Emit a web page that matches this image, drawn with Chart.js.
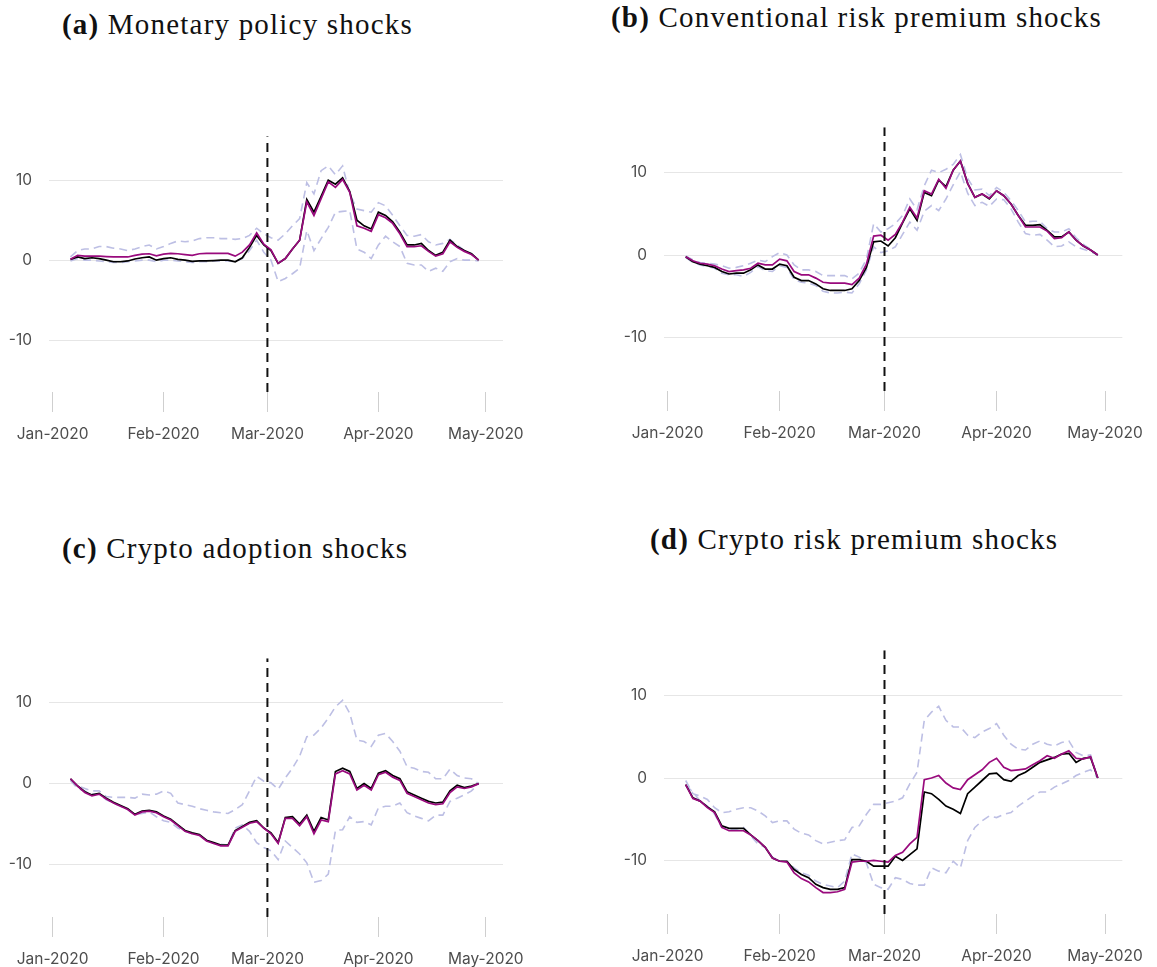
<!DOCTYPE html>
<html>
<head>
<meta charset="utf-8">
<script src="https://cdn.jsdelivr.net/npm/chart.js@4.4.1/dist/chart.umd.min.js"></script>
<style>
  html, body { margin: 0; padding: 0; background: #fff; overflow: hidden; }
  body { width: 1157px; height: 967px; position: relative; }
  .ttl { position: absolute; font-family: "Liberation Serif", serif; font-size: 29px; line-height: 29px; letter-spacing: 1.2px; color: #111; white-space: nowrap; }
  .box { position: absolute; }
</style>
</head>
<body>
<div class="ttl" style="left:62px;top:10px"><b>(a)</b> Monetary policy shocks</div>
<div class="ttl" style="left:611px;top:3px"><b>(b)</b> Conventional risk premium shocks</div>
<div class="ttl" style="left:62px;top:534px"><b>(c)</b> Crypto adoption shocks</div>
<div class="ttl" style="left:650px;top:525px"><b>(d)</b> Crypto risk premium shocks</div>

<div class="box" style="left:0px;top:110px;width:543px;height:332px"><canvas id="panelA"></canvas></div>
<div class="box" style="left:604px;top:101px;width:553px;height:340px"><canvas id="panelB"></canvas></div>
<div class="box" style="left:0px;top:632px;width:543px;height:335px"><canvas id="panelC"></canvas></div>
<div class="box" style="left:604px;top:624px;width:553px;height:340px"><canvas id="panelD"></canvas></div>

<script>
// days counted from 1 Jan 2020
const days = [5,7,9,11,13,15,17,19,21,23,25,27,29,31,33,35,37,39,41,43,45,47,49,51,53,55,57,59,61,63,65,67,69,71,73,75,77,79,81,83,85,87,89,91,93,95,97,99,101,103,105,107,109,111,113,115,117,119];
const monthStarts = [0, 31, 60, 91, 121];
const monthLabels = ["Jan-2020", "Feb-2020", "Mar-2020", "Apr-2020", "May-2020"];
const yTicks = [-10, 0, 10];
const eventDay = 60;   // 1 Mar 2020
const yMin = -16.5, yMax = 15.5;
const xMin = -1, xMax = 125.8;

// (a) monetary policy
const monBase = [0.1,0.4,0.2,0.3,0.2,0,-0.2,-0.2,-0.1,0.15, 0.3,0.4,0,0.2,0.3,0.1,0,-0.15,-0.1,-0.1, -0.05,0,0,-0.2,0.3,1.6,3.1,1.9,1.2,-0.4, 0.2,1.4,2.5,7.6,6.0,8.0,10.0,9.5,10.3,8.6, 5.0,4.3,3.9,6.0,5.6,4.8,3.5,1.9,1.9,2.1, 1.2,0.6,1.0,2.5,1.7,1.2,0.8,0];
const monAlt = [0.1,0.6,0.5,0.5,0.5,0.45,0.4,0.4,0.4,0.6, 0.75,0.8,0.55,0.75,0.85,0.8,0.7,0.6,0.8,0.85, 0.85,0.85,0.85,0.5,1.0,1.9,3.4,2.0,1.3,-0.4, 0.2,1.4,2.5,7.3,5.6,7.7,9.8,9.1,10.1,8.5, 4.3,4.0,3.6,5.7,5.3,4.6,3.3,1.7,1.7,1.8, 1.1,0.5,0.8,2.3,1.6,1.1,0.7,0];
const monHi = [0.4,1.2,1.4,1.4,1.7,1.7,1.5,1.4,1.2,1.4, 1.7,1.9,1.4,1.7,2.1,2.4,2.3,2.4,2.7,2.8, 2.8,2.7,2.7,2.6,2.7,3.1,4.0,3.3,2.8,2.5, 3.3,4.3,5.2,9.7,8.3,11.2,11.8,10.7,11.8,8.3, 6.4,6.2,6.0,7.2,6.8,5.6,4.3,3.1,3.0,3.2, 2.3,1.9,2.1,2.6,1.9,1.2,0.8,0];
const monLo = [-0.1,0.2,0,0,-0.1,-0.2,-0.3,-0.3,-0.2,-0.1, 0,0,-0.2,0,0,-0.1,-0.2,-0.3,-0.2,-0.2, -0.1,-0.1,-0.1,-0.2,0.2,1.2,2.5,1.0,0,-2.7, -2.3,-1.7,-1.0,3.7,1.2,2.7,4.1,6.0,6.1,6.2, 1.4,1.0,0.2,1.9,3.0,2.3,1.7,-0.4,-0.6,-0.6, -1.4,-1.0,-1.4,-0.2,0.2,0,0,-0.1];

// (b) conventional risk premium
const convBase = [-0.2,-0.8,-1.1,-1.3,-1.5,-2.0,-2.3,-2.2,-2.2,-1.8, -1.2,-1.7,-1.7,-1.1,-1.3,-2.7,-3.1,-3.1,-3.5,-4.1, -4.3,-4.3,-4.3,-4.1,-3.1,-1.5,1.6,1.7,1.1,2.1, 3.9,5.6,4.2,7.6,7.2,9.1,8.3,10.3,11.4,8.7, 7.0,7.4,6.8,7.8,7.2,6.2,4.8,3.6,3.6,3.7, 3.0,2.2,2.2,2.8,1.8,1.1,0.6,0];
const convAlt = [-0.2,-0.7,-1.0,-1.1,-1.3,-1.7,-2.0,-1.9,-1.8,-1.6, -1.0,-1.2,-1.2,-0.5,-0.7,-2.0,-2.4,-2.4,-2.8,-3.3, -3.4,-3.4,-3.4,-3.6,-2.8,-1.1,2.3,2.4,1.8,2.5, 4.0,5.8,4.5,7.8,7.4,9.2,8.1,10.3,11.4,8.7, 7.0,7.4,6.9,7.8,7.2,6.2,4.8,3.4,3.4,3.4, 2.9,2.0,2.1,2.8,1.8,1.1,0.6,0];
const convHi = [-0.1,-0.6,-0.9,-1.0,-1.1,-1.3,-1.6,-1.5,-1.3,-1.0, -0.6,-0.8,-0.2,0.3,0.0,-1.2,-1.8,-1.8,-2.0,-2.5, -2.5,-2.5,-2.5,-2.9,-2.2,-0.5,3.8,2.8,3.2,3.8, 4.8,6.8,5.5,8.4,10.3,10.0,10.4,11.0,12.2,9.3, 7.9,8.0,7.2,8.2,7.6,6.6,5.4,4.0,4.1,4.1, 3.2,2.8,2.8,3.2,2.1,1.3,0.7,0];
const convLo = [-0.3,-0.9,-1.2,-1.4,-1.6,-2.2,-2.4,-2.4,-2.6,-2.1, -1.4,-1.9,-2.0,-1.3,-1.5,-3.0,-3.3,-3.4,-3.7,-4.4, -4.6,-4.6,-4.5,-4.6,-3.5,-1.8,1.0,0.3,0.5,1.0, 2.5,4.0,3.0,5.3,6.0,5.4,6.8,8.5,10.1,7.5, 6.0,6.4,5.9,6.8,6.7,5.6,4.0,2.6,2.4,2.5, 1.8,1.0,1.1,1.6,1.0,0.7,0.4,0];

// (c) crypto adoption
const adoptBase = [0.6,-0.3,-1.0,-1.4,-1.2,-1.8,-2.3,-2.7,-3.1,-3.8, -3.4,-3.3,-3.5,-4.0,-4.4,-5.1,-5.8,-6.1,-6.3,-7.0, -7.3,-7.6,-7.6,-5.8,-5.3,-4.8,-4.6,-5.5,-6.1,-7.3, -4.2,-4.1,-5.0,-3.9,-5.9,-4.2,-4.5,1.5,1.9,1.5, -0.6,0.0,-0.6,1.3,1.6,1.0,0.6,-1.0,-1.4,-1.8, -2.2,-2.4,-2.3,-0.9,-0.2,-0.5,-0.3,0];
const adoptAlt = [0.6,-0.3,-1.1,-1.5,-1.3,-1.9,-2.4,-2.8,-3.2,-3.9, -3.5,-3.4,-3.6,-4.1,-4.5,-5.2,-5.9,-6.2,-6.4,-7.1, -7.4,-7.7,-7.7,-5.9,-5.4,-4.9,-4.7,-5.5,-6.2,-7.4, -4.3,-4.3,-5.2,-4.1,-6.2,-4.5,-4.7,1.2,1.6,1.2, -0.8,-0.2,-0.8,1.1,1.4,0.8,0.4,-1.2,-1.6,-2.0, -2.4,-2.6,-2.5,-1.1,-0.4,-0.6,-0.4,0];
const adoptHi = [0.5,-0.3,-0.6,-0.9,-0.9,-1.6,-1.7,-1.7,-1.7,-1.8, -1.3,-1.4,-1.3,-0.9,-1.2,-2.4,-2.6,-2.8,-3.1,-3.3, -3.5,-3.6,-3.7,-3.2,-2.6,-0.9,0.9,0.3,0.1,-0.7, 0.7,1.9,3.4,5.8,6.0,6.9,8.1,9.5,10.3,8.7, 5.4,5.2,4.6,6.0,6.2,5.2,4.0,2.1,1.9,1.5, 1.4,0.6,0.6,1.8,1.0,0.7,0.6,0];
const adoptLo = [0.4,-0.6,-0.9,-1.3,-1.3,-2.0,-2.4,-2.8,-3.2,-3.8, -3.7,-3.5,-4.1,-4.6,-4.8,-5.5,-5.9,-6.2,-6.4,-7.0, -7.4,-7.5,-7.6,-5.5,-5.1,-5.9,-7.3,-7.9,-8.3,-9.4, -7.1,-7.9,-8.7,-9.8,-12.2,-12.0,-11.2,-5.8,-5.7,-4.1, -4.8,-4.7,-5.1,-3.0,-2.8,-2.8,-2.4,-3.6,-4.0,-4.3, -4.6,-3.9,-3.9,-2.2,-1.8,-1.4,-0.9,0];

// (d) crypto risk premium
const cryptoBase = [-0.8,-2.4,-2.8,-3.5,-4.1,-5.8,-6.1,-6.1,-6.1,-6.9, -7.6,-8.4,-9.7,-10.1,-10.1,-11.1,-11.7,-12.1,-12.9,-13.3, -13.5,-13.5,-13.3,-9.9,-9.9,-10.1,-10.7,-10.7,-10.7,-9.5, -10.0,-9.3,-8.6,-1.7,-1.9,-2.6,-3.4,-3.8,-4.3,-1.9, -1.1,-0.3,0.5,0.6,-0.2,-0.4,0.3,0.7,1.3,1.9, 2.2,2.5,2.9,3.0,1.9,2.4,2.5,0];
const cryptoAlt = [-0.8,-2.5,-2.8,-3.6,-4.2,-6.0,-6.4,-6.4,-6.4,-6.9, -7.6,-8.4,-9.7,-10.1,-10.2,-11.5,-12.2,-12.6,-13.3,-13.9, -13.9,-13.8,-13.5,-10.2,-10.1,-10.1,-10.0,-10.1,-10.2,-9.4, -9.0,-8.0,-7.2,-0.2,0.0,0.3,-0.6,-1.2,-1.4,-0.2, 0.4,1.0,1.9,2.4,1.3,0.9,1.0,1.1,1.6,2.1, 2.7,2.4,2.9,3.3,2.4,2.3,2.6,0];
const cryptoHi = [-0.3,-1.9,-2.2,-2.6,-3.6,-4.2,-4.1,-3.8,-3.6,-3.6, -4.0,-4.6,-5.4,-5.2,-5.2,-6.2,-6.7,-6.9,-7.6,-8.0, -7.8,-7.6,-7.5,-6.0,-5.8,-4.4,-3.2,-3.2,-3.0,-2.8, -2.4,-0.7,0.7,7.0,8.0,8.7,7.0,6.2,6.2,5.2, 4.9,5.6,6.0,6.6,5.2,4.1,3.5,3.4,4.1,4.5, 4.1,3.9,4.3,4.5,3.1,2.7,2.8,0];
const cryptoLo = [-0.9,-1.7,-2.8,-3.4,-4.4,-6.0,-6.2,-6.2,-6.0,-7.0, -8.0,-8.4,-9.6,-10.1,-10.1,-10.9,-11.5,-11.8,-12.5,-12.9, -13.1,-13.3,-12.5,-9.2,-9.6,-10.3,-12.9,-13.3,-13.5,-12.1, -12.3,-12.8,-13.0,-13.0,-10.9,-11.3,-11.5,-10.1,-10.9,-7.6, -6.0,-5.2,-4.6,-4.8,-4.4,-4.2,-3.4,-2.8,-2.2,-1.7, -1.7,-1.1,-0.7,-0.3,0.3,0.7,1.0,0];

const tickFont = { family: "Inter", size: 15.5 };
const tickColor = "#4d4d4d";

function pts(arr) {
  return days.map((d, i) => ({ x: d, y: arr[i] }));
}

function band(arr) {
  return { data: pts(arr), borderColor: "#bdbfe4", borderWidth: 1.6, borderDash: [8, 5], pointRadius: 0, tension: 0 };
}

function panel(id, base, alt, hi, lo, yWidth, padRight) {
  new Chart(document.getElementById(id), {
    type: "line",
    data: {
      datasets: [
        { data: [{ x: eventDay, y: yMin }, { x: eventDay, y: yMax }], borderColor: "#111", borderWidth: 2, borderDash: [9, 6], pointRadius: 0 },
        { data: pts(alt), borderColor: "#990a7d", borderWidth: 1.7, pointRadius: 0, tension: 0 },
        { data: pts(base), borderColor: "#000", borderWidth: 1.7, pointRadius: 0, tension: 0 },
        band(hi),
        band(lo)
      ]
    },
    options: {
      responsive: true,
      maintainAspectRatio: false,
      animation: false,
      // top padding covers the y tick label padding so the plot top stays put
      layout: { padding: { top: 26, right: padRight, left: 0, bottom: 0 } },
      plugins: { legend: { display: false }, tooltip: { enabled: false } },
      scales: {
        x: {
          type: "linear",
          min: xMin,
          max: xMax,
          afterFit: (s) => { s.height = 50; },
          afterBuildTicks: (s) => { s.ticks = monthStarts.map(v => ({ value: v })); },
          grid: { drawOnChartArea: false, drawTicks: true, tickLength: 20, color: "#cfcfcf", lineWidth: 1 },
          border: { display: false },
          ticks: {
            padding: 13, font: tickFont, color: tickColor, maxRotation: 0,
            callback: (v) => monthLabels[monthStarts.indexOf(v)]
          }
        },
        y: {
          min: yMin,
          max: yMax,
          afterFit: (s) => { s.width = yWidth; },
          afterBuildTicks: (s) => { s.ticks = yTicks.map(v => ({ value: v })); },
          grid: { color: "#e6e6e6", lineWidth: 1, drawTicks: false },
          border: { display: false },
          ticks: { padding: 17, font: tickFont, color: tickColor }
        }
      }
    }
  });
}

panel("panelA", monBase, monAlt, monHi, monLo, 49, 40);
panel("panelB", convBase, convAlt, convHi, convLo, 60, 31);
panel("panelC", adoptBase, adoptAlt, adoptHi, adoptLo, 49, 40);
panel("panelD", cryptoBase, cryptoAlt, cryptoHi, cryptoLo, 60, 31);
</script>
</body>
</html>
